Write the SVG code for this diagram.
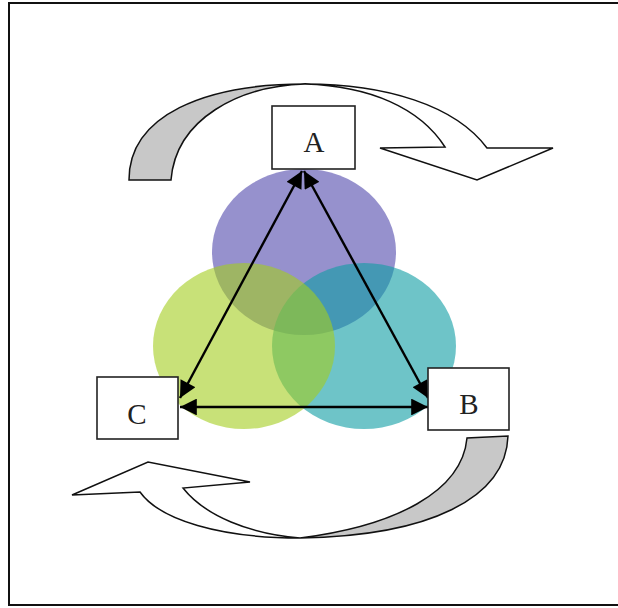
<svg xmlns="http://www.w3.org/2000/svg" width="618" height="608" viewBox="0 0 618 608">
<defs>
<marker id="ah" viewBox="0 0 10 10" refX="10" refY="5" markerWidth="7.5" markerHeight="7" orient="auto-start-reverse" markerUnits="strokeWidth">
<path d="M0,0 L10,5 L0,10 Z" fill="#000"/>
</marker>
</defs>
<style>
.box{fill:#fff;stroke:#222;stroke-width:1.6}
.lbl{font-family:"Liberation Serif","Times New Roman",serif;font-size:29px;fill:#222;text-anchor:middle}
.conn{stroke:#000;stroke-width:2.4;fill:none;marker-start:url(#ah);marker-end:url(#ah)}
.ca{stroke:#111;stroke-width:1.5;stroke-linejoin:miter}
.circ{opacity:0.6}
</style>
<rect x="9" y="3" width="610" height="602" fill="#fff" stroke="#111" stroke-width="2"/>
<g id="top-curved-arrow">
<path class="ca" fill="#c8c8c8" d="M129,180 C129,115 205,84 305,84 C240,86 176,118 171,180 Z"/>
<path class="ca" fill="#fff" d="M305,84 C385,84 455,105 487,148 L553,148 L477,180 L380,148 L445,147 C420,108 370,86 305,84 Z"/>
</g>
<g id="bottom-curved-arrow">
<path class="ca" fill="#c8c8c8" d="M508,436 C506,498 430,536 300,538 C395,526 462,492 467,438 Z"/>
<path class="ca" fill="#fff" d="M300,538 C220,538 160,520 140,492 L72,495 L148,462 L250,482 L183,488 C205,516 250,534 300,538 Z"/>
</g>
<g id="circles">
<ellipse class="circ" cx="304" cy="252" rx="92" ry="83" fill="rgb(80,72,172)"/>
<ellipse class="circ" cx="364" cy="346" rx="92" ry="83" fill="rgb(13,157,163)"/>
<ellipse class="circ" cx="244" cy="346" rx="91" ry="83" fill="rgb(163,205,30)"/>
</g>
<g id="connectors">
<line class="conn" x1="302" y1="171" x2="180" y2="398"/>
<line class="conn" x1="304" y1="171" x2="428" y2="398"/>
<line class="conn" x1="180" y1="407" x2="428" y2="407"/>
</g>
<g id="node-A">
<rect class="box" x="272" y="106" width="83" height="63"/>
<text class="lbl" x="314" y="152">A</text>
</g>
<g id="node-B">
<rect class="box" x="428" y="368" width="81" height="62"/>
<text class="lbl" x="469" y="414">B</text>
</g>
<g id="node-C">
<rect class="box" x="97" y="377" width="81" height="62"/>
<text class="lbl" x="137" y="424">C</text>
</g>
</svg>
